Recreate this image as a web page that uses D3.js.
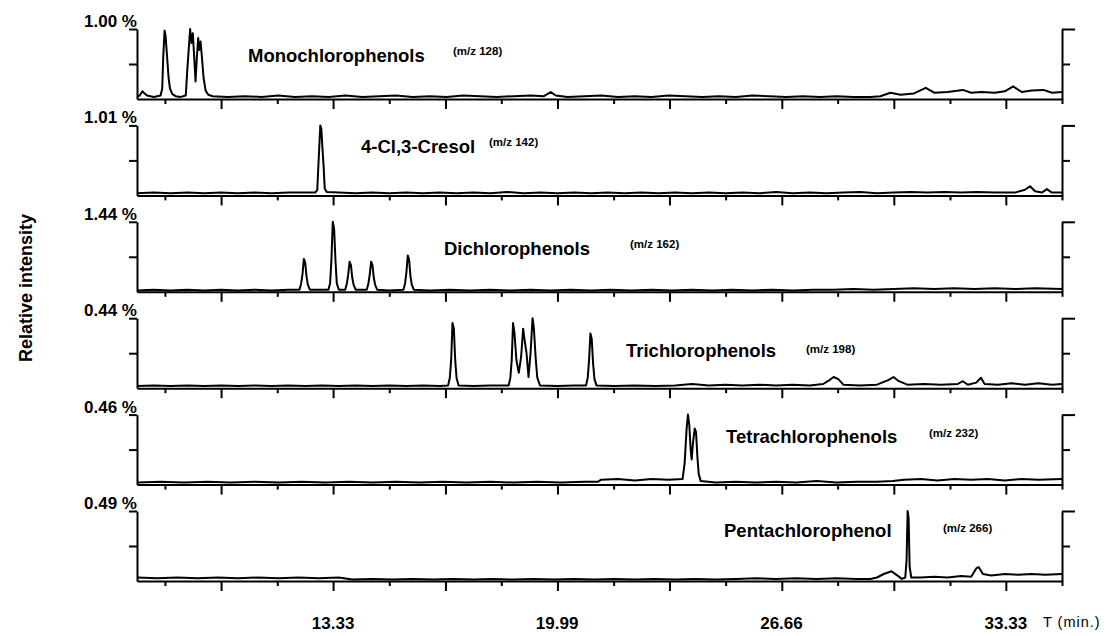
<!DOCTYPE html>
<html>
<head>
<meta charset="utf-8">
<script src="https://cdn.jsdelivr.net/npm/d3@7"></script>
<style>
body { margin: 0; background: #fff; }
svg { display: block; font-family: Arial, "Liberation Sans", sans-serif; }
</style>
</head>
<body>
<svg width="1116" height="636"></svg>
<script>
// ---- data ----
const compounds = ['Monochlorophenols', '4-Cl,3-Cresol', 'Dichlorophenols', 'Trichlorophenols', 'Tetrachlorophenols', 'Pentachlorophenol'];
const massLabels = ['(m/z 128)', '(m/z 142)', '(m/z 162)', '(m/z 198)', '(m/z 232)', '(m/z 266)'];
const fullScale = ['1.00 %', '1.01 %', '1.44 %', '0.44 %', '0.46 %', '0.49 %'];

const minorTicks = [8.33, 11.67, 15, 18.33, 21.67, 25, 28.33, 31.67, 35];
const majorTicks = [10, 13.33, 16.67, 20, 23.33, 26.67, 30, 33.33];
const tickLabels = ['13.33', '19.99', '26.66', '33.33'];
const tickLabelTimes = [13.33, 19.99, 26.66, 33.33];

// [time (min), intensity relative to panel full scale]
const monoTrace = [[7.5,.03],[7.58,.05],[7.66,.11],[7.72,.08],[7.8,.05],[7.9,.04],[8.0,.03],[8.1,.04],[8.2,.05],[8.25,.15],[8.28,.6],[8.32,.98],[8.35,.9],[8.38,.7],[8.41,.5],[8.44,.3],[8.48,.15],[8.55,.07],[8.65,.04],[8.8,.03],[8.95,.05],[9.0,.45],[9.08,1.0],[9.12,.8],[9.16,.94],[9.2,.6],[9.24,.25],[9.28,.6],[9.32,.87],[9.35,.7],[9.39,.82],[9.43,.6],[9.48,.3],[9.54,.12],[9.62,.06],[9.75,.04],[10.2,.03],[10.7,.04],[11.2,.03],[11.7,.05],[12.2,.03],[12.7,.04],[13.2,.03],[13.7,.05],[14.2,.03],[14.7,.04],[15.2,.05],[15.7,.03],[16.2,.04],[16.7,.03],[17.2,.05],[17.7,.04],[18.2,.03],[18.7,.04],[19.2,.05],[19.6,.04],[19.8,.1],[19.95,.05],[20.3,.03],[20.8,.04],[21.3,.05],[21.8,.03],[22.3,.04],[22.8,.03],[23.3,.05],[23.8,.04],[24.3,.03],[24.8,.04],[25.3,.03],[25.8,.05],[26.3,.04],[26.8,.03],[27.3,.04],[27.8,.03],[28.3,.04],[28.8,.03],[29.3,.03],[29.6,.04],[29.9,.09],[30.2,.06],[30.6,.08],[30.95,.16],[31.2,.09],[31.6,.1],[32.05,.13],[32.3,.09],[32.6,.1],[33.0,.09],[33.3,.11],[33.55,.18],[33.8,.1],[34.1,.12],[34.45,.13],[34.7,.09],[35,.1]];

const cresolTrace = [[7.5,.03],[8.0,.04],[8.5,.03],[9.0,.04],[9.5,.03],[10,.04],[10.5,.03],[11,.04],[11.5,.03],[12,.04],[12.5,.04],[12.8,.04],[12.86,.08],[12.89,.4],[12.92,.7],[12.95,1.0],[12.98,.95],[13.01,.7],[13.05,.4],[13.08,.1],[13.14,.05],[13.5,.04],[14,.03],[14.5,.04],[15,.03],[15.5,.04],[16,.03],[16.5,.04],[17,.03],[17.5,.04],[18,.03],[18.5,.05],[19,.03],[19.5,.04],[20,.03],[20.5,.04],[21,.03],[21.5,.04],[22,.03],[22.5,.04],[23,.03],[23.5,.04],[24,.03],[24.5,.04],[25,.03],[25.5,.04],[26,.03],[26.5,.05],[27,.03],[27.5,.04],[28,.03],[28.5,.04],[29,.05],[29.5,.03],[30,.04],[30.5,.05],[31,.04],[31.5,.05],[32,.04],[32.5,.05],[33,.04],[33.6,.04],[33.9,.08],[34.05,.13],[34.2,.06],[34.4,.04],[34.55,.09],[34.7,.04],[35,.04]];

const dichloroTrace = [[7.5,.02],[8,.03],[8.5,.02],[9,.03],[9.5,.02],[10,.03],[10.5,.02],[11,.03],[11.5,.02],[12,.03],[12.33,.03],[12.38,.12],[12.42,.25],[12.46,.47],[12.5,.42],[12.54,.22],[12.58,.1],[12.64,.03],[13.0,.03],[13.19,.03],[13.24,.12],[13.28,.45],[13.32,1.0],[13.36,.9],[13.4,.45],[13.44,.12],[13.5,.03],[13.69,.03],[13.74,.12],[13.78,.25],[13.82,.43],[13.86,.38],[13.9,.2],[13.94,.1],[14.0,.03],[14.33,.03],[14.38,.12],[14.42,.25],[14.46,.43],[14.5,.38],[14.54,.2],[14.58,.1],[14.64,.03],[15.0,.02],[15.42,.03],[15.47,.12],[15.51,.28],[15.55,.52],[15.59,.46],[15.63,.22],[15.67,.1],[15.73,.03],[16.2,.02],[16.8,.03],[17.4,.02],[18,.03],[18.6,.02],[19.2,.03],[19.8,.02],[20.4,.03],[21,.02],[21.6,.03],[22.2,.02],[22.8,.03],[23.4,.02],[24,.03],[24.6,.02],[25.2,.03],[25.8,.02],[26.4,.03],[27,.02],[27.6,.03],[28.2,.03],[28.8,.04],[29.4,.03],[30,.04],[30.6,.05],[31.2,.04],[31.8,.05],[32.4,.04],[33,.05],[33.6,.04],[34.2,.05],[35,.04]];

const trichloroTrace = [[7.5,.03],[8,.04],[8.5,.03],[9,.04],[9.5,.03],[10,.04],[10.5,.03],[11,.04],[11.5,.03],[12,.04],[12.5,.03],[13,.04],[13.5,.03],[14,.04],[14.5,.03],[15,.04],[15.5,.03],[16,.04],[16.5,.03],[16.75,.04],[16.8,.15],[16.84,.4],[16.88,.93],[16.92,.85],[16.96,.4],[17.0,.15],[17.06,.04],[17.5,.03],[18,.04],[18.55,.04],[18.6,.15],[18.64,.4],[18.68,.93],[18.72,.8],[18.78,.4],[18.85,.22],[18.92,.45],[18.98,.85],[19.02,.7],[19.08,.5],[19.14,.16],[19.2,.5],[19.26,1.0],[19.3,.85],[19.35,.45],[19.4,.15],[19.48,.04],[20,.03],[20.5,.04],[20.85,.04],[20.9,.15],[20.94,.4],[20.98,.78],[21.02,.7],[21.06,.35],[21.1,.13],[21.16,.04],[21.7,.03],[22.3,.04],[22.9,.03],[23.5,.04],[24,.06],[24.5,.04],[25,.05],[25.5,.04],[26,.05],[26.5,.04],[27,.05],[27.5,.04],[27.9,.06],[28.1,.12],[28.21,.16],[28.35,.13],[28.5,.05],[29,.04],[29.5,.05],[29.85,.12],[29.99,.16],[30.15,.1],[30.4,.05],[30.9,.06],[31.4,.05],[31.9,.06],[32.05,.1],[32.2,.05],[32.45,.08],[32.59,.15],[32.7,.06],[33.1,.05],[33.5,.07],[33.9,.05],[34.3,.07],[34.7,.05],[35,.06]];

const tetrachloroTrace = [[7.5,.03],[8.2,.04],[8.9,.03],[9.6,.04],[10.3,.03],[11,.04],[11.7,.03],[12.4,.04],[13.1,.03],[13.8,.04],[14.5,.03],[15.2,.04],[15.9,.03],[16.6,.04],[17.3,.03],[18,.04],[18.7,.03],[19.4,.04],[20.1,.03],[20.8,.04],[21.2,.04],[21.3,.07],[21.8,.08],[22.3,.06],[22.8,.08],[23.3,.07],[23.72,.08],[23.78,.3],[23.84,.8],[23.88,1.0],[23.92,.85],[23.96,.5],[23.99,.36],[24.03,.6],[24.08,.8],[24.12,.75],[24.16,.4],[24.2,.15],[24.26,.05],[24.7,.03],[25.3,.04],[25.9,.03],[26.5,.04],[27.1,.03],[27.7,.05],[28.3,.03],[28.9,.04],[29.5,.04],[29.97,.05],[30.3,.07],[30.8,.08],[31.3,.06],[31.8,.08],[32.3,.07],[32.8,.08],[33.3,.06],[33.8,.08],[34.3,.07],[35,.08]];

const pentachloroTrace = [[7.5,.05],[8.1,.04],[8.7,.05],[9.3,.04],[9.9,.05],[10.5,.04],[11.1,.05],[11.7,.04],[12.3,.05],[12.9,.04],[13.5,.05],[13.9,.02],[14.5,.03],[15.1,.02],[15.7,.03],[16.3,.02],[16.9,.03],[17.5,.02],[18.1,.03],[18.7,.02],[19.3,.03],[19.9,.02],[20.5,.03],[21.1,.02],[21.7,.03],[22.3,.02],[22.9,.03],[23.5,.02],[24.1,.03],[24.7,.02],[25.3,.03],[25.9,.04],[26.5,.03],[27.1,.04],[27.7,.03],[28.3,.04],[28.9,.03],[29.3,.03],[29.5,.05],[29.7,.1],[29.93,.14],[30.1,.08],[30.24,.03],[30.34,.05],[30.38,.3],[30.41,1.0],[30.44,.9],[30.47,.2],[30.52,.05],[30.8,.05],[31.2,.06],[31.6,.05],[32.0,.07],[32.3,.06],[32.45,.18],[32.52,.2],[32.65,.1],[32.9,.08],[33.3,.1],[33.7,.09],[34.1,.1],[34.5,.09],[35,.1]];

const traces = [monoTrace, cresolTrace, dichloroTrace, trichloroTrace, tetrachloroTrace, pentachloroTrace];

// ---- layout ----
let svg = d3.select('svg');

let left = 137, right = 1062; // plot edges
let panelTop0 = 29; // top of first panel
let panelPitch = 96.4; // distance between panels
let panelH = 70; // panel height

// name / mass label positions [nameX, nameY, massX, massY]
let labelPos = [
	[248, 62, 453, 55],
	[361, 153, 489, 146],
	[444, 255, 630, 248],
	[626, 357, 806, 353],
	[726, 443, 929, 437],
	[724, 537, 943, 532]
];

let x = d3.scaleLinear().domain([7.5, 35]).range([left, right]);

let line = d3.line()
	.x(d => x(d[0]))
	.y(d => d[1]);

// draws one stacked chromatogram panel
function drawPanel(i)
{
	let top = panelTop0 + panelPitch * i;
	let base = top + panelH;
	let y = d3.scaleLinear().domain([0, 1]).range([base, top]);

	let g = svg.append('g');

	// trace
	g.append('path')
		.datum(traces[i])
		.attr('fill', 'none')
		.attr('stroke', '#000')
		.attr('stroke-width', 2)
		.attr('stroke-linejoin', 'round')
		.attr('d', line.y(d => y(d[1])));

	// bottom axis: long and short ticks
	g.append('g')
		.attr('transform', 'translate(0,' + base + ')')
		.call(d3.axisBottom(x).tickValues(majorTicks).tickSize(10).tickSizeOuter(0).tickFormat(''));
	let bottomMinor = g.append('g')
		.attr('transform', 'translate(0,' + base + ')')
		.call(d3.axisBottom(x).tickValues(minorTicks).tickSize(5).tickSizeOuter(0).tickFormat(''));
	bottomMinor.select('.domain').remove();

	// left axis
	g.append('g')
		.attr('transform', 'translate(' + left + ',0)')
		.call(d3.axisLeft(y).tickValues([0.5, 1]).tickSize(8).tickSizeOuter(0).tickFormat(''));

	// right bracket
	g.append('g')
		.attr('transform', 'translate(' + right + ',0)')
		.call(d3.axisRight(y).tickValues([0.5]).tickSize(8).tickSizeOuter(0).tickFormat(''));
	let rightTop = g.append('g')
		.attr('transform', 'translate(' + right + ',0)')
		.call(d3.axisRight(y).tickValues([1]).tickSize(13).tickSizeOuter(0).tickFormat(''));
	rightTop.select('.domain').remove();

	g.selectAll('.domain, .tick line')
		.attr('stroke', '#000')
		.attr('stroke-width', 2);

	// full scale label
	g.append('text')
		.attr('x', left)
		.attr('y', top - 2)
		.attr('text-anchor', 'end')
		.attr('font-size', 17)
		.attr('font-weight', 'bold')
		.text(fullScale[i]);

	// compound name and mass
	g.append('text')
		.attr('x', labelPos[i][0])
		.attr('y', labelPos[i][1])
		.attr('font-size', 18.5)
		.attr('font-weight', 'bold')
		.text(compounds[i]);
	g.append('text')
		.attr('x', labelPos[i][2])
		.attr('y', labelPos[i][3])
		.attr('font-size', 11.5)
		.attr('font-weight', 'bold')
		.text(massLabels[i]);
}

for (let i = 0; i < traces.length; i++)
	drawPanel(i);

// time labels under the last panel
svg.append('g').selectAll('text')
	.data(tickLabels)
	.enter()
	.append('text')
	.attr('x', (d, i) => x(tickLabelTimes[i]))
	.attr('y', 629)
	.attr('text-anchor', 'middle')
	.attr('font-size', 17)
	.attr('font-weight', 'bold')
	.text(d => d);

svg.append('text')
	.attr('x', 1043)
	.attr('y', 627)
	.attr('font-size', 14.5)
	.attr('letter-spacing', 1)
	.text('T (min.)');

// y title
svg.append('text')
	.attr('transform', 'translate(32,288) rotate(-90)')
	.attr('text-anchor', 'middle')
	.attr('font-size', 18)
	.attr('font-weight', 'bold')
	.text('Relative intensity');
</script>
</body>
</html>
